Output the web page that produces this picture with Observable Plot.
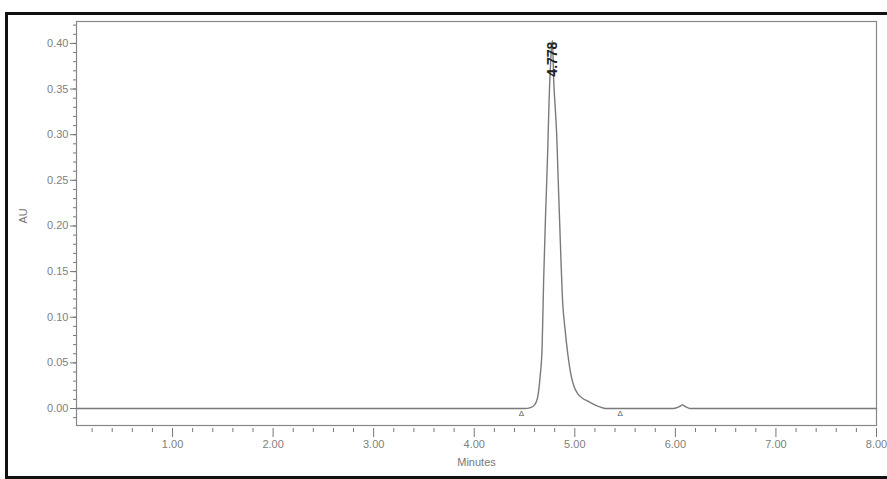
<!DOCTYPE html>
<html>
<head>
<meta charset="utf-8">
<script src="https://cdn.jsdelivr.net/npm/d3@7"></script>
<script src="https://cdn.jsdelivr.net/npm/@observablehq/plot@0.6"></script>
<style>
  html, body { margin: 0; padding: 0; background: #ffffff; overflow: hidden; }
  #chart svg { display: block; overflow: visible; }
</style>
</head>
<body>
<div id="chart"></div>
<script>
// Chromatogram trace (minutes, AU)
const times = [0.05, 4.50, 4.56, 4.60, 4.63, 4.655, 4.675, 4.69, 4.71, 4.73, 4.745, 4.76, 4.772, 4.778,
  4.79, 4.805, 4.82, 4.835, 4.86, 4.88, 4.90, 4.93, 4.96, 4.99, 5.03, 5.08, 5.13, 5.22, 5.32,
  5.98, 6.04, 6.07, 6.10, 6.15, 8.0];
const absorb = [0, 0, 0.001, 0.004, 0.012, 0.035, 0.067, 0.14, 0.214, 0.28, 0.34, 0.38, 0.400, 0.403,
  0.36, 0.33, 0.30, 0.25, 0.17, 0.115, 0.09, 0.06, 0.038, 0.025, 0.016, 0.011, 0.008, 0.003, 0,
  0, 0.002, 0.004, 0.002, 0, 0];

// Peak annotation
const peakTimes = [4.777];
const peakTop = [0.402];
const peakLabels = ["4.778"];

// Integration start/end markers
const markerTimes = [4.47, 5.45];

// Axis titles
const xTitle = "Minutes";
const yTitle = "AU";

// Tick values
const yMajor = [0, 0.05, 0.10, 0.15, 0.20, 0.25, 0.30, 0.35, 0.40];
const yMinor = d3.range(-1, 43).map(i => i / 100);
const xMajor = [1, 2, 3, 4, 5, 6, 7, 8];
const xMinor = d3.range(1, 40).map(i => i / 5).filter(v => Math.abs(v - Math.round(v)) > 1e-9);

const trace = times.map((t, i) => ({t, v: absorb[i]}));
const peaks = peakTimes.map((t, i) => ({t, v: peakTop[i], label: peakLabels[i]}));
const markers = markerTimes.map(t => ({t, v: 0}));

const fmt = d3.format(".2f");

const chart = Plot.plot({
  width: 887,
  height: 479,
  marginLeft: 76,
  marginRight: 11,
  marginTop: 21,
  marginBottom: 54,
  style: {fontFamily: "Liberation Sans, Arial, sans-serif", fontSize: "11px", color: "#666", background: "transparent"},
  x: {domain: [0.045, 8.0]},
  y: {domain: [-0.0186, 0.424]},
  marks: [
    // outer black border of the figure
    Plot.frame({stroke: "#111", strokeWidth: 3, insetLeft: -70, insetTop: -8, insetBottom: -52, insetRight: -15}),
    // plot area frame
    Plot.frame({stroke: "#888", strokeWidth: 1.2}),
    Plot.axisY({ticks: yMinor, tickSize: 3, text: null, label: null, stroke: "#777"}),
    Plot.axisY({ticks: yMajor, tickSize: 6, tickFormat: fmt, tickPadding: 2, stroke: "#777", fill: "#808080", fontSize: 11, label: null}),
    Plot.axisX({ticks: xMinor, tickSize: 4, text: null, label: null, dy: 3, stroke: "#777"}),
    Plot.axisX({ticks: xMajor, tickSize: 9, tickFormat: fmt, dy: 3, tickPadding: 3, stroke: "#777", fill: "#808080", fontSize: 11, label: null}),
    Plot.text([xTitle], {frameAnchor: "bottom", text: d => d, dy: 40, fill: "#777", fontSize: 11}),
    Plot.text([yTitle], {frameAnchor: "left", text: d => d, rotate: -90, dx: -53, fill: "#777", fontSize: 11}),
    Plot.line(trace, {x: "t", y: "v", stroke: "#7a7a7a", strokeWidth: 1.4, curve: "monotone-x"}),
    Plot.text(markers, {x: "t", y: "v", text: () => "Δ", dy: 5, fontSize: 8, fill: "#555"}),
    Plot.text(peaks, {x: "t", y: "v", text: "label", rotate: -90, textAnchor: "end", fontSize: 14,
      fontWeight: "bold", fill: "#222"})
  ]
});
document.getElementById("chart").appendChild(chart);
</script>
</body>
</html>
